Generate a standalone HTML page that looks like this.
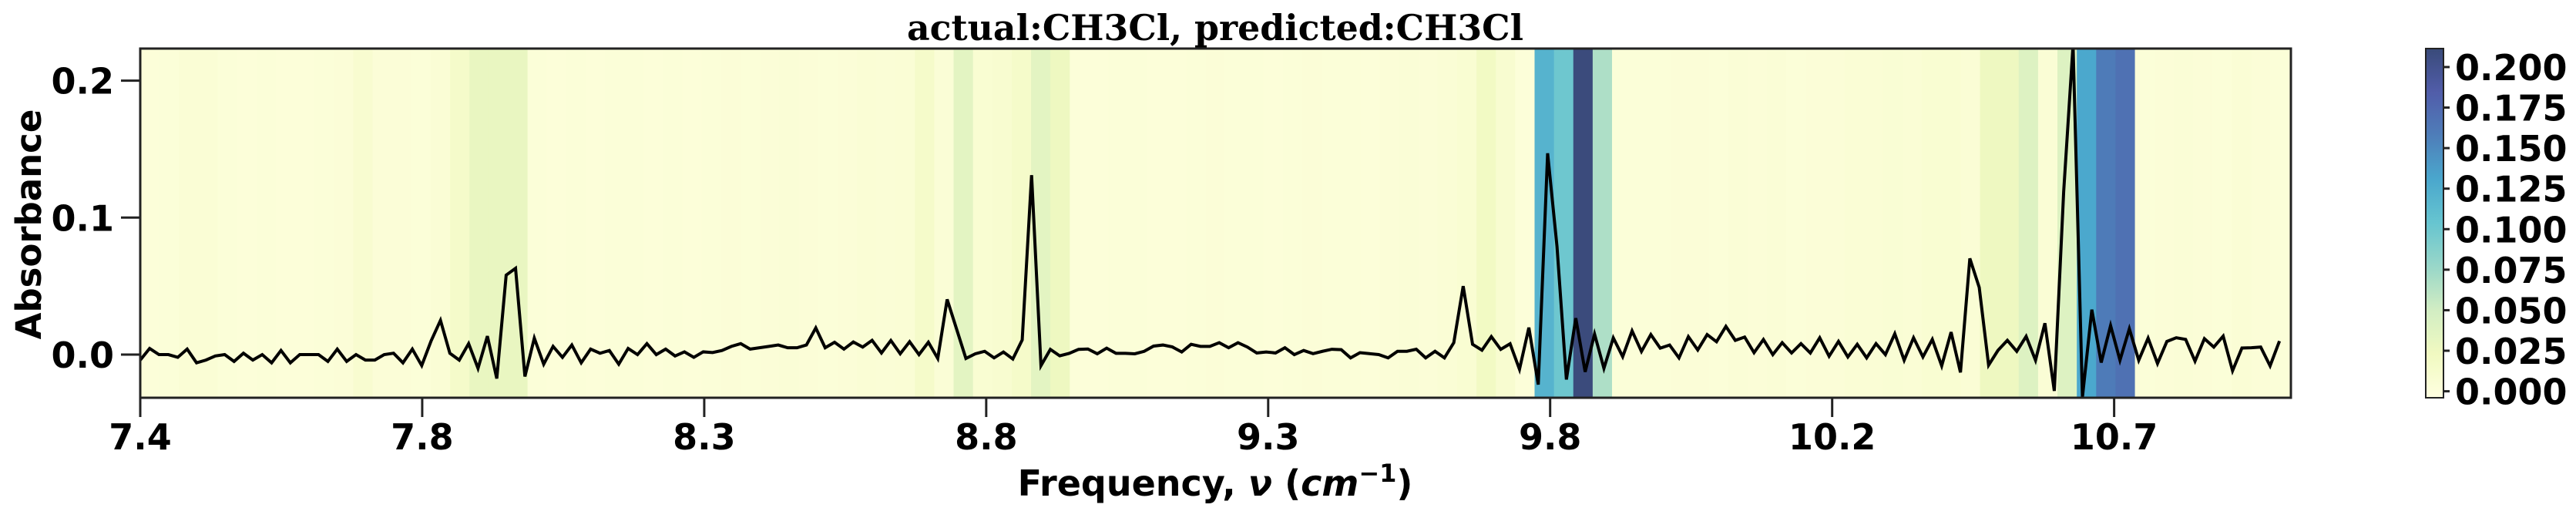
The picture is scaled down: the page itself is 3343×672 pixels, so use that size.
<!DOCTYPE html>
<html><head><meta charset="utf-8"><style>
html,body{margin:0;padding:0;background:#fff;}
svg{display:block;font-family:"DejaVu Sans","Liberation Sans",sans-serif;font-weight:bold;}
</style></head><body>
<svg id="chart" width="3343" height="672" viewBox="0 0 3343 672" xmlns="http://www.w3.org/2000/svg">
<defs><clipPath id="plotclip"><rect x="182" y="63" width="2791" height="453"/></clipPath>
<linearGradient id="cbgrad" x1="0" y1="1" x2="0" y2="0"></linearGradient></defs>
<g id="heat" clip-path="url(#plotclip)"></g>
<g id="line" clip-path="url(#plotclip)"></g>
<rect x="182" y="63" width="2791" height="453" fill="none" stroke="#222" stroke-width="3"/>
<g id="axes"></g>
<text x="1577" y="52" text-anchor="middle" font-family="DejaVu Serif, Liberation Serif, serif" font-size="46" font-weight="bold" textLength="800" lengthAdjust="spacingAndGlyphs">actual:CH3Cl, predicted:CH3Cl</text>
<text transform="translate(53,291) rotate(-90)" text-anchor="middle" font-size="45">Absorbance</text>
<text x="1577" y="643" text-anchor="middle" font-size="46">Frequency, <tspan font-style="italic">ν</tspan> (<tspan font-style="italic">cm</tspan><tspan dy="-18" font-size="32">−1</tspan><tspan dy="18">)</tspan></text>
<rect id="cbar" x="3148" y="63" width="23" height="453" fill="url(#cbgrad)" stroke="#222" stroke-width="2"/>
<g id="cbaxis"></g>
</svg>
<script>
// ---- data ----
const xStart = 7.4;          // frequency of first sample
const sampleStep = 0.015686; // frequency step between samples
const bandStep = 0.032376;   // frequency width of heatmap cell
const xTickValues = [7.4, 7.8714, 8.3429, 8.8143, 9.2857, 9.7571, 10.2286, 10.7];
const xTickLabels = ["7.4","7.8","8.3","8.8","9.3","9.8","10.2","10.7"];
const yTickValues = [0.0, 0.1, 0.2];
const yTickLabels = ["0.0","0.1","0.2"];
const cbTickValues = [0,0.025,0.05,0.075,0.1,0.125,0.15,0.175,0.2];
const cbTickLabels = ["0.000","0.025","0.050","0.075","0.100","0.125","0.150","0.175","0.200"];
const absorbance = [
-0.004,0.0045,0,0,-0.002,0.004,-0.006,-0.004,-0.001,0,
-0.005,0.001,-0.004,0,-0.006,0.003,-0.006,0,0,0,
-0.005,0.004,-0.005,0,-0.004,-0.004,0,0.001,-0.006,0.004,
-0.008,0.010,0.025,0.001,-0.004,0.008,-0.010,0.0135,-0.0175,0.058,
0.063,-0.016,0.012,-0.007,0.006,-0.002,0.007,-0.006,0.004,0.001,
0.003,-0.007,0.0045,0,0.008,0,0.004,-0.001,0.002,-0.002,
0.002,0.0015,0.003,0.006,0.008,0.004,0.005,0.006,0.007,0.005,
0.005,0.007,0.0195,0.005,0.009,0.004,0.0092,0.0055,0.0104,0.0012,
0.0103,0.0006,0.0094,0,0.009,-0.0028,0.0403,0.0188,-0.0028,0.0006,
0.0024,-0.0024,0.0019,-0.0032,0.0107,0.131,-0.0081,0.0038,-0.0009,0.0009,
0.0038,0.0041,0.0006,0.0047,0.0009,0.0009,0.0006,0.0024,0.0062,0.007,
0.0056,0.0019,0.0075,0.006,0.006,0.0087,0.005,0.0087,0.0055,0.0012,
0.0019,0.0012,0.005,0,0.003,0.0007,0.0024,0.0039,0.0036,-0.0024,
0.0014,0.0007,0,-0.0024,0.0024,0.0024,0.0039,-0.0024,0.0024,-0.0024,
0.0087,0.050,0.0075,0.0032,0.0131,0.0038,0.0079,-0.0107,0.0197,-0.0219,
0.147,0.0788,-0.0182,0.0266,-0.0126,0.015,-0.01,0.0122,-0.0015,0.0173,
0.0023,0.0146,0.0047,0.007,-0.0024,0.0131,0.0034,0.0146,0.0094,0.0206,
0.0104,0.0128,0.0014,0.011,0,0.0087,0.0012,0.008,0.0012,0.0123,
-0.0012,0.0096,-0.0017,0.0075,-0.0024,0.008,0,0.0152,-0.0041,0.0123,
-0.0017,0.0111,-0.0082,0.0164,-0.013,0.0702,0.049,-0.0077,0.0031,0.0104,
0.0024,0.0133,-0.0041,0.0229,-0.0265,0.119,0.226,-0.031,0.0328,-0.0058,
0.0212,-0.0041,0.0188,-0.0041,0.012,-0.0065,0.0096,0.0123,0.0111,-0.0048,
0.0116,0.0055,0.0135,-0.0118,0.0048,0.005,0.0055,-0.0082,0.0099
];
const heat = [
0.002,0.003,0.006,0.006,0.003,0.002,0.003,0.002,0.002,0.003,
0.004,0.010,0.004,0.004,0.003,0.006,0.015,0.030,0.030,0.030,
0.003,0.002,0.003,0.002,0.003,0.003,0.002,0.003,0.002,0.003,
0.004,0.003,0.004,0.005,0.004,0.003,0.004,0.006,0.005,0.006,
0.015,0.005,0.035,0.008,0.010,0.015,0.035,0.025,0.002,0.002,
0.003,0.003,0.002,0.002,0.003,0.004,0.003,0.003,0.002,0.003,
0.004,0.003,0.003,0.002,0.004,0.005,0.004,0.006,0.008,0.020,
0.010,0.002,0.120,0.100,0.210,0.067,0.003,0.003,0.003,0.004,
0.004,0.003,0.005,0.004,0.005,0.003,0.004,0.004,0.006,0.006,
0.007,0.006,0.008,0.008,0.006,0.025,0.025,0.040,0.006,0.040,
0.130,0.160,0.168,0.003,0.004,0.005,0.004,0.003,0.006,0.004,
0.003,0.003
];
// ---- scales ----
const X0=182, X1=2973, Y0=63, Y1=516;
const xMin=7.4, xMax=7.4+3.5955;
const yMin=-0.0315, yMax=0.2234;
const xs = v => X0 + (v - xMin) / (xMax - xMin) * (X1 - X0);
const ys = v => Y1 - (v - yMin) / (yMax - yMin) * (Y1 - Y0);
const cMin=-0.004, cMax=0.2114;
const cys = v => Y1 - (v - cMin) / (cMax - cMin) * (Y1 - Y0);
const stops=["#ffffd9","#edf8b1","#c7e9b4","#7fcdbb","#41b6c4","#1d91c0","#225ea8","#253494","#081d58"];
function hex(h){return [1,3,5].map(i=>parseInt(h.substr(i,2),16));}
function cmap(v){
  let t=Math.max(0,Math.min(1,(v-cMin)/(cMax-cMin)))*8;
  let i=Math.min(7,Math.floor(t)), f=t-i;
  let a=hex(stops[i]), b=hex(stops[i+1]);
  let c=a.map((x,k)=>Math.round((x+(b[k]-x)*f)*0.8+255*0.2));
  return "rgb("+c.join(",")+")";
}
const NS="http://www.w3.org/2000/svg";
function mk(tag,attrs,parent){const e=document.createElementNS(NS,tag);for(const k in attrs)e.setAttribute(k,attrs[k]);parent.appendChild(e);return e;}
// heatmap
const heatG=document.getElementById('heat');
heat.forEach((v,i)=>{
  const xa=xs(xStart+i*bandStep), xb=xs(xStart+(i+1)*bandStep);
  const r=mk('rect',{x:xa,y:Y0,width:xb-xa+0.6,height:Y1-Y0,fill:cmap(v)},heatG);
  
  
});
// line
const pts=absorbance.map((v,i)=>xs(xStart+i*sampleStep).toFixed(2)+","+ys(v).toFixed(2)).join(" ");
const pl=mk('polyline',{points:pts,fill:"none",stroke:"#000","stroke-width":4,"stroke-linejoin":"miter"},document.getElementById('line'));


// axes
const ax=document.getElementById('axes');
xTickValues.forEach((v,i)=>{
  const x=xs(v);
  const t=mk('line',{x1:x,x2:x,y1:Y1,y2:Y1+25,stroke:"#222","stroke-width":3},ax);
  
  
  const l=mk('text',{x:x,y:583,"text-anchor":"middle","font-size":46},ax);
  l.textContent=xTickLabels[i];
  
  
});
yTickValues.forEach((v,i)=>{
  const y=ys(v);
  const t=mk('line',{x1:X0-25,x2:X0,y1:y,y2:y,stroke:"#222","stroke-width":3},ax);
  
  
  const l=mk('text',{x:148,y:y+17,"text-anchor":"end","font-size":46},ax);
  l.textContent=yTickLabels[i];
  
  
});
// colorbar
const grad=document.getElementById('cbgrad');
for(let k=0;k<=40;k++){const v=cMin+(cMax-cMin)*k/40;mk('stop',{offset:(k/40),"stop-color":cmap(v)},grad);}
const cb=document.getElementById('cbaxis');
cbTickValues.forEach((v,i)=>{
  const y=cys(v);
  const t=mk('line',{x1:3171,x2:3179,y1:y,y2:y,stroke:"#222","stroke-width":3},cb);
  
  
  const l=mk('text',{x:3186,y:y+17,"font-size":46},cb);
  l.textContent=cbTickLabels[i];
  
  
});
</script>
</body></html>
